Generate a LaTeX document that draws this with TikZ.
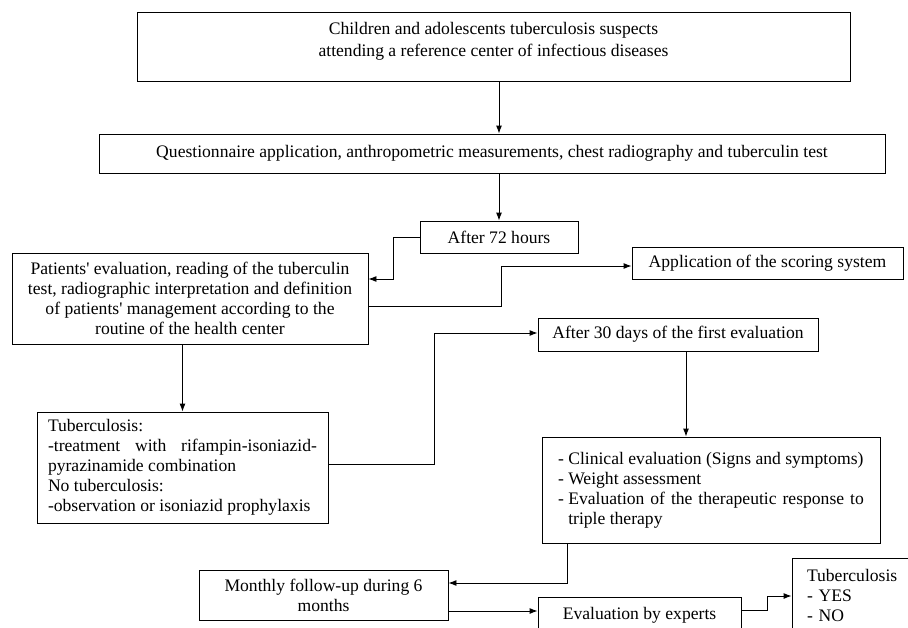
\documentclass[tikz,border=0pt]{standalone}
\usepackage{fontspec}
\setmainfont{Liberation Serif}
\usetikzlibrary{arrows.meta}
\tikzset{
  box/.style={draw, line width=0.9pt, inner sep=0pt, font=\fontsize{17.6}{20}\selectfont},
  link/.style={->, line width=0.9pt}
}
\newcommand{\ap}{\textquotesingle}
\begin{document}
\begin{tikzpicture}[x=1pt, y=-1pt, >={Latex[length=8pt,width=6pt]}]
\clip (0,0) rectangle (908,627);
\node[box, minimum width=713, minimum height=69, align=center, font=\fontsize{17.6}{22}\selectfont] (start) at (493.5,46.5) {Children and adolescents tuberculosis suspects\\attending a reference center of infectious diseases\\[-8pt] \mbox{}};
\node[box, minimum width=786, minimum height=39] (quest) at (492,153.5) {Questionnaire application, anthropometric measurements, chest radiography and tuberculin test};
\node[box, minimum width=158, minimum height=32] (after72) at (499,237) {After 72 hours};
\node[box, minimum width=356, minimum height=91, align=center] (evalpat) at (190,298.5) {Patients\ap{} evaluation, reading of the tuberculin\\test, radiographic interpretation and definition\\of patients\ap{} management according to the\\routine of the health center};
\node[box, minimum width=271, minimum height=32] (scoring) at (767.5,263) {Application of the scoring system};
\node[box, minimum width=291, minimum height=111, text width=269, align=justify] (treat) at (182.5,467.5) {Tuberculosis:\\-treatment with rifampin-isoniazid-\linebreak pyrazinamide combination\\No tuberculosis:\\-observation or isoniazid prophylaxis};
\node[box, minimum width=280, minimum height=33] (after30) at (678,334.5) {After 30 days of the first evaluation};
\node[box, minimum width=338, minimum height=106, text width=306, align=justify] (clinical) at (711,490) {\parindent=0pt - Clinical evaluation (Signs and symptoms)\par
  - Weight assessment\par
  \noindent\hbox{- }\parbox[t]{295.5pt}{Evaluation of the therapeutic response to\linebreak triple therapy}};
\node[box, minimum width=249, minimum height=50, align=center] (monthly) at (323.5,595) {Monthly follow-up during 6\\months};
\node[box, minimum width=203, minimum height=36] (experts) at (639.5,615) {Evaluation by experts};
\node[box, minimum width=138, minimum height=74, text width=108, align=left] (result) at (861,595) {Tuberculosis\\- YES\\- NO};

% connectors
\draw[link] (after72.north |- start.south) -- (after72.north |- quest.north);
\draw[link] (after72.north |- quest.south) -- (after72.north);
\draw[link] (after72.west) -- ++(-26,0) |- ([yshift=19.5pt]evalpat.east);
\draw[link] ([yshift=-7.5pt]evalpat.east) -- (501,306) |- ([yshift=-3pt]scoring.west);
\draw[link] (treat.north |- evalpat.south) -- (treat.north);
\draw[link] ([yshift=3.5pt]treat.east) -- (434,464) |- ([yshift=1.5pt]after30.west);
\draw[link] ([xshift=8pt]after30.south) -- ([xshift=8pt]after30.south |- clinical.north);
\draw[link] ([xshift=-144pt]clinical.south) |- ([yshift=12pt]monthly.east);
\draw[link] ([yshift=-16pt]monthly.east) -- ([yshift=-16pt]monthly.east -| experts.west);
\draw[link] ([yshift=5pt]experts.east) -- (767,610) |- ([yshift=-1pt]result.west);
\end{tikzpicture}
\end{document}
